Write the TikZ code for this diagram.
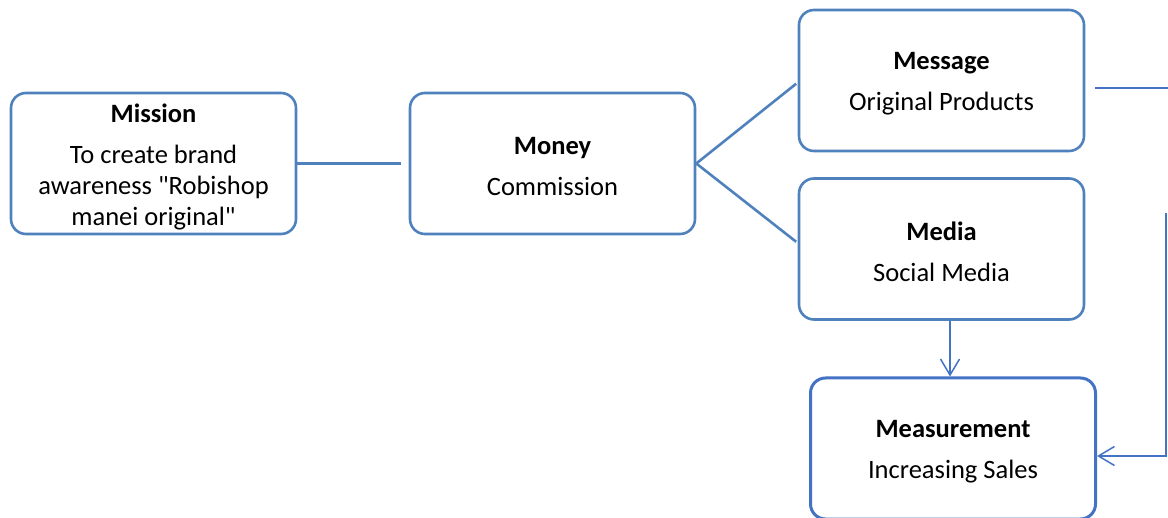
\documentclass[tikz,border=0pt]{standalone}
\usepackage{fontspec}
\setmainfont{Carlito}[Ligatures=TeXOff]
\usetikzlibrary{arrows.meta,calc}
\definecolor{boxblue}{HTML}{4F81BD}
\definecolor{darkblue}{HTML}{4472C4}
\tikzset{
  card/.style={draw=boxblue, line width=2.6pt, rounded corners=15pt, fill=white,
    minimum width=285pt, minimum height=141pt, inner sep=0pt},
  keycard/.style={card, draw=darkblue, line width=3pt},
  cardtext/.style={align=center, inner sep=0pt, yshift=-3pt,
    font=\fontsize{26.5}{31}\selectfont},
  link/.style={draw=boxblue, line width=2.6pt},
  thinlink/.style={draw=darkblue, line width=1.5pt},
  flow/.style={thinlink, -{Straight Barb[length=16pt, width=19pt, line width=1.5pt]}}
}
\begin{document}
\begin{tikzpicture}[x=1pt, y=-1pt]
\useasboundingbox (0,0) rectangle (1168,518);

% the five boxes, each with a bold heading and a plain line below
\node[card, label={[cardtext]center:{\textbf{Mission}\\[10pt]To create brand\\awareness "Robishop\\manei original"}}]
  (mission) at (153.5,163.5) {};
\node[card, label={[cardtext]center:{\textbf{Money}\\[10pt]Commission}}]
  (money) at (552.5,163.5) {};
\node[card, label={[cardtext]center:{\textbf{Message}\\[10pt]Original Products}}]
  (message) at (941.5,80.5) {};
\node[card, label={[cardtext]center:{\textbf{Media}\\[10pt]Social Media}}]
  (media) at (941.5,249) {};
\node[keycard, label={[cardtext]center:{\textbf{Measurement}\\[10pt]Increasing Sales}}]
  (measure) at (953,448.5) {};

% helper points for the routed connectors
\coordinate (edgetop) at (1168,88);
\coordinate (railtop) at (1166,213);
\coordinate (railbot) at (1166,456);
\coordinate (dropx) at (950,0);

% plain links
\draw[link, shorten >=8pt] (mission.east) -- (money.west);
\draw[link, shorten >=2pt] (money.east) -- ($(message.west)+(0,2)$);
\draw[link, shorten >=2pt] (money.east) -- ($(media.west)+(0,-6)$);
\draw[thinlink, shorten <=10pt] (message.east |- edgetop) -- (edgetop);

% arrows into the measurement box
\draw[flow] (media.south -| dropx) -- (measure.north -| dropx);
\draw[flow] (railtop) -- (railbot) -- (measure.east |- railbot);
\end{tikzpicture}
\end{document}
